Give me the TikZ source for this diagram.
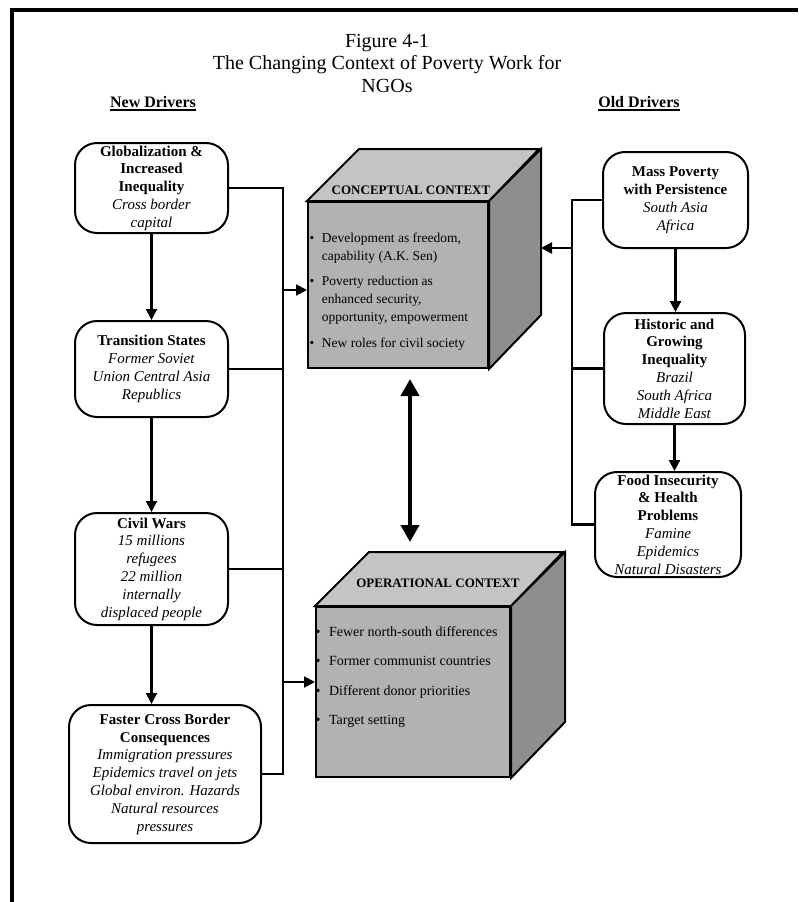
\documentclass[tikz,border=0pt]{standalone}
\usepackage{fontspec}
\setmainfont{Liberation Serif}
\usetikzlibrary{arrows.meta,calc}
\definecolor{cubetop}{HTML}{C4C4C4}
\definecolor{cubefront}{HTML}{B2B2B2}
\definecolor{cubeside}{HTML}{8E8E8E}

\begin{document}
\begin{tikzpicture}[x=1pt,y=-1pt,
  font=\fontsize{15}{17.8}\selectfont,
  driver/.style={draw,line width=2pt,rounded corners=22pt,align=center,
    inner sep=0pt,fill=white},
  face/.style={draw,line width=2pt,fill=cubefront,inner sep=0pt},
  link/.style={line width=2.2pt},
  arr/.style={link,-{Triangle[length=11pt,width=11pt]}},
  dbl/.style={line width=4pt,
    {Triangle[length=17pt,width=18pt]}-{Triangle[length=17pt,width=18pt]}},
  head/.style={font=\fontsize{16}{18}\selectfont\bfseries,inner sep=0pt},
  cubelab/.style={font=\fontsize{13}{15}\selectfont\bfseries,inner sep=0pt},
  bul/.style={font=\fontsize{13.5}{18}\selectfont,inner sep=0pt,anchor=base west}
]
\useasboundingbox (0,0) rectangle (798,902);
\draw[line width=4pt] (12,902) -- (12,10) -- (798,10);
\node[font=\fontsize{20}{22.5}\selectfont,align=center] (title) at (387,63)
  {Figure 4-1\\The Changing Context of Poverty Work for\\NGOs};
\node[head] (newd) at (153,102) {New Drivers};
\node[head] (oldd) at (639,102) {Old Drivers};
\draw[line width=1.6pt] ([yshift=-2.5pt]newd.base west) -- ([yshift=-2.5pt]newd.base east);
\draw[line width=1.6pt] ([yshift=-2.5pt]oldd.base west) -- ([yshift=-2.5pt]oldd.base east);
\node[driver,minimum width=153pt,minimum height=90pt] (glob) at (151.5,188)
  {\textbf{Globalization \&}\\\textbf{Increased}\\\textbf{Inequality}\\
   \textit{Cross border}\\\textit{capital}};
\node[driver,minimum width=153pt,minimum height=96pt] (trans) at (151.5,369)
  {\textbf{Transition States}\\\textit{Former Soviet}\\\textit{Union Central Asia}\\
   \textit{Republics}};
\node[driver,minimum width=153pt,minimum height=112pt] (civil) at (151.5,569)
  {\textbf{Civil Wars}\\\textit{15 millions}\\\textit{refugees}\\\textit{22 million}\\
   \textit{internally}\\\textit{displaced people}};
\node[driver,minimum width=192pt,minimum height=138pt] (faster) at (165,774)
  {\textbf{Faster Cross Border}\\\textbf{Consequences}\\\textit{Immigration pressures}\\
   \textit{Epidemics travel on jets}\\\textit{Global environ. Hazards}\\
   \textit{Natural resources}\\\textit{pressures}};
\node[driver,minimum width=145pt,minimum height=96pt] (mass) at (675.5,200)
  {\textbf{Mass Poverty}\\\textbf{with Persistence}\\\textit{South Asia}\\\textit{Africa}};
\node[driver,minimum width=141pt,minimum height=111pt] (hist) at (674.5,368.5)
  {\textbf{Historic and}\\\textbf{Growing}\\\textbf{Inequality}\\\textit{Brazil}\\
   \textit{South Africa}\\\textit{Middle East}};
\node[driver,minimum width=146pt,minimum height=105pt] (food) at (668,524.5)
  {\textbf{Food Insecurity}\\\textbf{\& Health}\\\textbf{Problems}\\\textit{Famine}\\
   \textit{Epidemics}\\\textit{Natural Disasters}};
\node[face,minimum width=180pt,minimum height=166pt] (ccube) at (398,285) {};
\draw[face,fill=cubetop] (ccube.north west) -- ++(52,-52) -- ++(180,0)
  -- (ccube.north east) -- cycle;
\draw[face,fill=cubeside] (ccube.north east) -- ++(52,-52) -- ++(0,166)
  -- (ccube.south east) -- cycle;
\node[cubelab] (cclab) at (411,190) {CONCEPTUAL CONTEXT};
\node[bul] (cctext) at (309.5,242.3)
  {\begin{tabular}[t]{@{}l@{\hspace{7.5pt}}l@{}}
   \textbullet & Development as freedom,\\ & capability (A.K. Sen)\\[7pt]
   \textbullet & Poverty reduction as\\ & enhanced security,\\
   & opportunity, empowerment\\[8pt]
   \textbullet & New roles for civil society
   \end{tabular}};
\node[face,minimum width=194pt,minimum height=170pt] (ocube) at (413,692) {};
\draw[face,fill=cubetop] (ocube.north west) -- ++(54,-54) -- ++(194,0)
  -- (ocube.north east) -- cycle;
\draw[face,fill=cubeside] (ocube.north east) -- ++(54,-54) -- ++(0,170)
  -- (ocube.south east) -- cycle;
\node[cubelab] (oclab) at (438,583) {OPERATIONAL CONTEXT};
\node[bul,font=\fontsize{14}{29.5}\selectfont] (octext) at (315.5,636.3)
  {\begin{tabular}[t]{@{}l@{\hspace{8.5pt}}l@{}}
   \textbullet & Fewer north-south differences\\
   \textbullet & Former communist countries\\
   \textbullet & Different donor priorities\\
   \textbullet & Target setting
   \end{tabular}};
\coordinate (lb) at (283,0);
\coordinate (rb) at (572,0);
\draw[link] (glob.east) -- (glob.east -| lb) -- (faster.east -| lb) -- (faster.east);
\draw[link] (trans.east) -- (trans.east -| lb);
\draw[link] (civil.east) -- (civil.east -| lb);
\draw[link] (mass.west) -- (mass.west -| rb) -- (food.west -| rb) -- (food.west);
\draw[link] (hist.west) -- (hist.west -| rb);
\coordinate (ccin) at ([yshift=-5pt]ccube.west);
\coordinate (ocin) at ([yshift=10pt]ocube.west);
\coordinate (ccr) at ($(ccube.east)+(52,-37)$);
\draw[arr] (ccin -| lb) -- (ccin);
\draw[arr] (ocin -| lb) -- (ocin);
\draw[arr] (ccr -| rb) -- (ccr);
\draw[arr] (glob.south) -- (trans.north);
\draw[arr] (trans.south) -- (civil.north);
\draw[arr] (civil.south) -- (civil.south |- faster.north);
\draw[arr] (mass.south) -- (mass.south |- hist.north);
\draw[arr] (hist.south) -- (hist.south |- food.north);
\coordinate (dtop) at ([xshift=12pt,yshift=-10pt]ccube.south);
\coordinate (dbot) at ([xshift=-3pt,yshift=64pt]ocube.north);
\draw[dbl] (dtop) -- (dbot);
\end{tikzpicture}
\end{document}
